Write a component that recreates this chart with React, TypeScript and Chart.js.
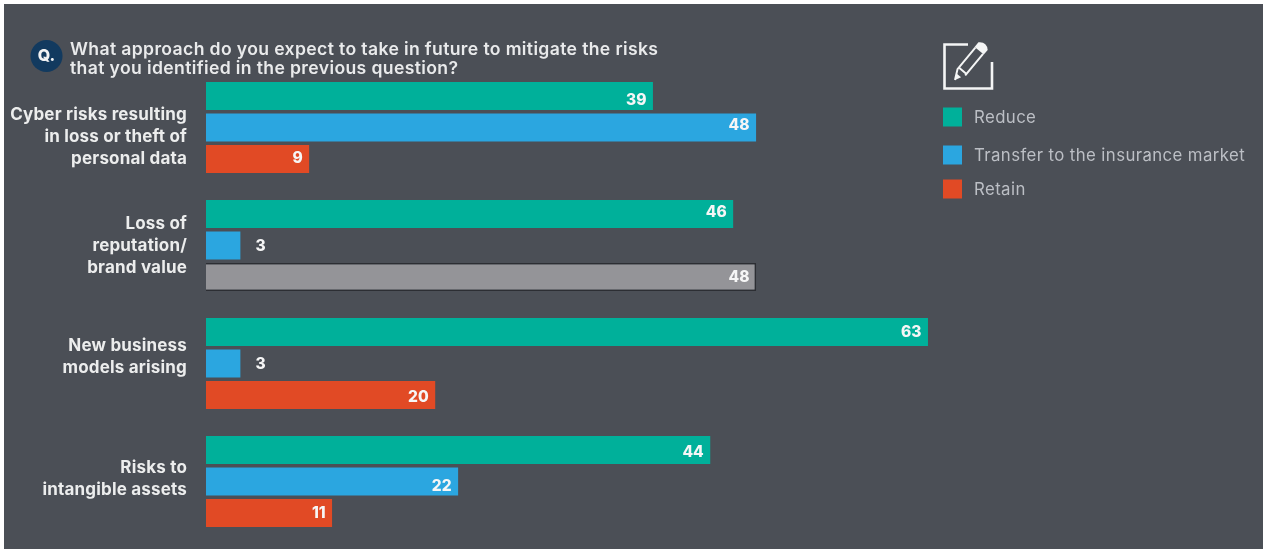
import React, { useEffect, useRef } from "react";
import { Chart, registerables } from "chart.js";

Chart.register(...registerables);

const categories = [
  ["Cyber risks resulting", "in loss or theft of", "personal data"],
  ["Loss of", "reputation/", "brand value"],
  ["New business", "models arising"],
  ["Risks to", "intangible assets"],
];
const seriesNames = ["Reduce", "Transfer to the insurance market", "Retain"];
const reduce = [39, 46, 63, 44];
const transfer = [48, 3, 3, 22];
const retain = [9, 48, 20, 11];
const titleLines = [
  "What approach do you expect to take in future to mitigate the risks",
  "that you identified in the previous question?",
];

const TEAL = "#00b09a";
const BLUE = "#2ba6e0";
const RED = "#e14a25";
const GREY = "#949498";
const PANEL = "#4b4f56";
const FACE = "Inter, sans-serif";

// Vertical nudges of the category text relative to each group's centre.
const labelNudge = [9, 0, -7, -3];
// Vertical nudges of the value labels, one row per series.
const valueNudge = [
  [3.5, -2.5, 0, 1.5],
  [-3, 0, 0.5, 4],
  [-1, 0, 1.5, 0],
];
const legendRows = [117, 155, 189];

const panelArt = {
  id: "panelArt",
  beforeDraw(chart: Chart) {
    const { ctx, width, height } = chart;
    ctx.save();
    ctx.fillStyle = "#ffffff";
    ctx.fillRect(0, 0, width, height);
    ctx.fillStyle = PANEL;
    ctx.fillRect(4, 4, width - 4, height - 4);
    ctx.restore();
  },
  afterDraw(chart: Chart) {
    const { ctx } = chart;
    ctx.save();

    // Question badge and heading
    ctx.fillStyle = "#123a5f";
    ctx.beginPath();
    ctx.arc(46.5, 56, 16, 0, Math.PI * 2);
    ctx.fill();
    ctx.fillStyle = "#f2f3f4";
    ctx.font = `800 16px ${FACE}`;
    ctx.textAlign = "center";
    ctx.textBaseline = "middle";
    ctx.fillText("Q.", 46.5, 56.5);

    ctx.font = `600 17.6px ${FACE}`;
    (ctx as any).letterSpacing = "0.36px";
    ctx.fillStyle = "#e9eaeb";
    ctx.textAlign = "left";
    titleLines.forEach((line, i) => ctx.fillText(line, 70, 49.5 + i * 19.5));

    // Category text beside each group
    const yScale = chart.scales.y;
    ctx.font = `700 17px ${FACE}`;
    (ctx as any).letterSpacing = "0.18px";
    ctx.fillStyle = "#eceded";
    ctx.textAlign = "right";
    categories.forEach((lines, i) => {
      const mid = yScale.getPixelForValue(i) + labelNudge[i];
      lines.forEach((line, j) => {
        ctx.fillText(line, 187, mid + (j - (lines.length - 1) / 2) * 22);
      });
    });

    // Value labels: inside the bar end, or just past it for short bars
    ctx.font = `800 15.5px ${FACE}`;
    (ctx as any).letterSpacing = "0px";
    ctx.fillStyle = "#f6f6f6";
    chart.data.datasets.forEach((ds, di) => {
      chart.getDatasetMeta(di).data.forEach((bar, i) => {
        const v = ds.data[i] as number;
        const outside = v < 5;
        ctx.textAlign = outside ? "left" : "right";
        ctx.fillText(String(v), outside ? bar.x + 15 : bar.x - 6.5, bar.y + 0.5 + valueNudge[di][i]);
      });
    });

    // Legend
    ctx.font = `400 16.8px ${FACE}`;
    (ctx as any).letterSpacing = "0.4px";
    ctx.textAlign = "left";
    chart.data.datasets.forEach((ds, di) => {
      ctx.fillStyle = [TEAL, BLUE, RED][di];
      ctx.fillRect(943, legendRows[di] - 9.5, 19, 19);
      ctx.fillStyle = "#bcbfc5";
      ctx.fillText(ds.label as string, 974, legendRows[di] + 1);
    });

    // Note-and-pencil icon
    ctx.strokeStyle = "#f4f5f5";
    ctx.lineWidth = 2.6;
    ctx.lineJoin = "miter";
    ctx.beginPath();
    ctx.moveTo(968, 44.5);
    ctx.lineTo(944.5, 44.5);
    ctx.lineTo(944.5, 88.5);
    ctx.lineTo(992, 88.5);
    ctx.lineTo(992, 62);
    ctx.stroke();

    ctx.translate(955, 80);
    ctx.rotate(-Math.PI * 0.28);
    ctx.lineWidth = 2;
    ctx.beginPath();
    ctx.moveTo(0, 0);
    ctx.lineTo(10, -5);
    ctx.lineTo(38, -5);
    ctx.moveTo(38, 5);
    ctx.lineTo(10, 5);
    ctx.closePath();
    ctx.moveTo(12, -5);
    ctx.lineTo(12, 5);
    ctx.stroke();
    ctx.fillStyle = "#f4f5f5";
    ctx.beginPath();
    ctx.moveTo(0, 0);
    ctx.lineTo(6, -3);
    ctx.lineTo(6, 3);
    ctx.closePath();
    ctx.fill();
    ctx.beginPath();
    ctx.moveTo(38, -6);
    ctx.lineTo(44, -6);
    ctx.quadraticCurveTo(50, 0, 44, 6);
    ctx.lineTo(38, 6);
    ctx.closePath();
    ctx.fill();
    ctx.restore();
  },
};

export default function App() {
  const canvasRef = useRef<HTMLCanvasElement>(null);

  useEffect(() => {
    const chart = new Chart(canvasRef.current!, {
      type: "bar",
      plugins: [panelArt],
      data: {
        labels: categories.map((c) => c.join(" ")),
        datasets: [
          { label: seriesNames[0], data: reduce, backgroundColor: TEAL },
          { label: seriesNames[1], data: transfer, backgroundColor: BLUE },
          {
            label: seriesNames[2],
            data: retain,
            // The reputation row is shown greyed out with a dark outline
            backgroundColor: retain.map((_, i) => (i === 1 ? GREY : RED)),
            borderColor: "#2c2e33",
            borderWidth: retain.map((_, i) => (i === 1 ? 1.5 : 0)),
          },
        ],
      },
      options: {
        indexAxis: "y",
        responsive: false,
        animation: false,
        layout: { padding: { left: 206, right: 140.2, top: 68.5, bottom: 8.5 } },
        datasets: { bar: { categoryPercentage: 0.8, barPercentage: 0.889 } },
        plugins: {
          legend: { display: false },
          title: { display: false },
          tooltip: { enabled: false },
        },
        scales: {
          x: { display: false, min: 0, max: 80 },
          y: { display: false },
        },
      },
    });
    return () => chart.destroy();
  }, []);

  return (
    <div style={{ position: "fixed", left: 0, top: 0, width: 1263, height: 549 }}>
      <canvas ref={canvasRef} width={1263} height={549} style={{ display: "block" }} />
    </div>
  );
}
